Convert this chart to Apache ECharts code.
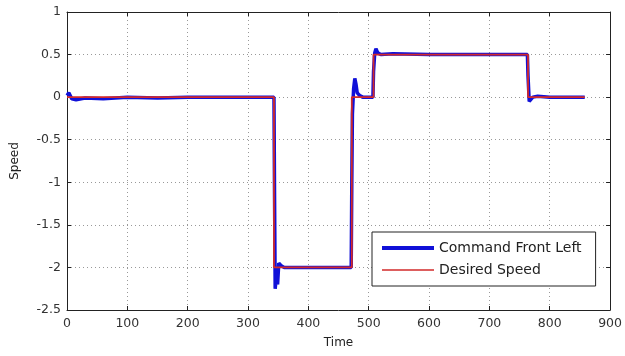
<!DOCTYPE html>
<html><head><meta charset="utf-8">
<script src="https://cdn.jsdelivr.net/npm/echarts@6/dist/echarts.min.js"></script>
<style>html,body{margin:0;padding:0;background:#fff}#c{width:625px;height:356px}</style>
</head><body><div id="c"></div>
<script>
var xTicks = [0,100,200,300,400,500,600,700,800,900];
var yTicks = [-2.5,-2,-1.5,-1,-0.5,0,0.5,1];
var desiredTime  = [0, 343, 343, 472, 472, 508, 508, 764, 764, 858];
var desiredSpeed = [0, 0, -2, -2, 0, 0, 0.5, 0.5, 0, 0];
var cmdTime  = [0, 3, 8, 15, 30, 60, 100, 150, 200, 250, 300, 343, 344, 345, 347, 349, 351, 355, 360, 400, 440, 471, 472, 473, 475, 477, 479, 481, 485, 490, 500, 507, 508, 510, 512, 515, 520, 540, 600, 650, 700, 740, 763, 764, 766, 768, 772, 780, 800, 830, 858];
var cmdSpeed = [0.02, 0.05, -0.02, -0.03, -0.01, -0.02, 0, -0.01, 0, 0, 0, 0, -1.2, -2.25, -2.1, -2.2, -1.95, -1.98, -2, -2, -2, -2, -1.0, -0.2, 0.1, 0.22, 0.15, 0.05, 0.02, 0, 0, 0, 0.3, 0.52, 0.57, 0.52, 0.5, 0.51, 0.5, 0.5, 0.5, 0.5, 0.5, 0.25, -0.05, -0.03, 0, 0.01, 0, 0, 0];
var seriesNames = ['Command Front Left', 'Desired Speed'];

function zip(a,b){return a.map(function(v,i){return [v,b[i]];});}
var font = 'DejaVu Sans';
var chart = echarts.init(document.getElementById('c'), null, {renderer:'canvas'});
var axisLine = {show:true, onZero:false, lineStyle:{color:'#222', width:1}};
var tick = {show:true, inside:true, length:4, lineStyle:{color:'#222'}};
var split = {show:true, lineStyle:{color:'#999', type:[1,3], width:1}};
chart.setOption({
  animation:false,
  backgroundColor:'#fff',
  grid:{left:67, right:9, top:12, bottom:46, show:false},
  xAxis:[{
    type:'value', min:xTicks[0], max:xTicks[xTicks.length-1], interval:100,
    name:'Time', nameLocation:'middle', nameGap:27,
    nameTextStyle:{fontFamily:font, fontSize:12, color:'#222'},
    axisLine:axisLine, axisTick:tick, splitLine:split,
    axisLabel:{fontFamily:font, fontSize:12.5, color:'#333', margin:7}
  },{
    type:'value', position:'top', min:0, max:900, interval:100,
    axisLine:axisLine, axisTick:tick, splitLine:{show:false}, axisLabel:{show:false}
  }],
  yAxis:[{
    type:'value', min:yTicks[0], max:yTicks[yTicks.length-1], interval:0.5,
    name:'Speed', nameLocation:'middle', nameGap:46, nameRotate:90,
    nameTextStyle:{fontFamily:font, fontSize:12, color:'#222'},
    axisLine:axisLine, axisTick:tick, splitLine:split,
    axisLabel:{fontFamily:font, fontSize:12.5, color:'#333', margin:6}
  },{
    type:'value', position:'right', min:-2.5, max:1, interval:0.5,
    axisLine:axisLine, axisTick:tick, splitLine:{show:false}, axisLabel:{show:false}
  }],
  legend:{
    orient:'vertical', left:372, top:232, width:225,
    padding:[9,14,9,10], itemGap:8, itemWidth:52, itemHeight:14,
    backgroundColor:'#fff', borderColor:'#222', borderWidth:1,
    textStyle:{fontFamily:font, fontSize:14, color:'#222'},
    data:[
      {name:seriesNames[0], icon:'path://M0,0h52v0.01h-52zM0,5h52v4h-52zM0,13.99h52v0.01h-52z'},
      {name:seriesNames[1], icon:'path://M0,0h52v0.01h-52zM0,6.2h52v1.6h-52zM0,13.99h52v0.01h-52z'}
    ]
  },
  series:[{
    name:seriesNames[0], type:'line', data:zip(cmdTime,cmdSpeed),
    symbol:'none', lineStyle:{color:'#1010d8', width:3.5}, itemStyle:{color:'#1010d8'}
  },{
    name:seriesNames[1], type:'line', data:zip(desiredTime,desiredSpeed),
    symbol:'none', lineStyle:{color:'#d22a2a', width:1.8}, itemStyle:{color:'#d22a2a'}
  }]
});
</script></body></html>
